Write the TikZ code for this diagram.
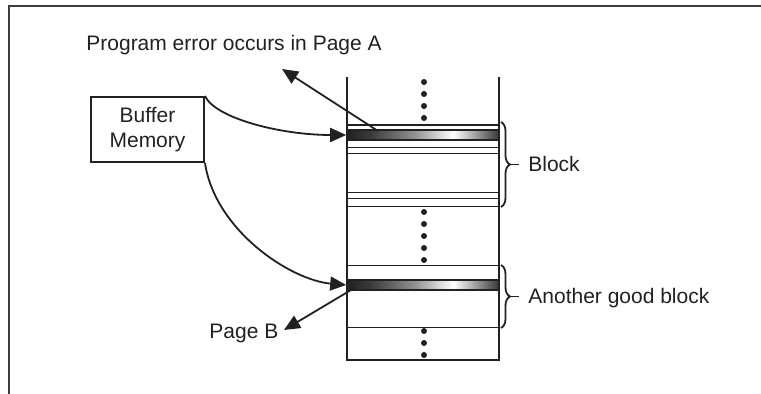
\documentclass[tikz,border=0pt]{standalone}
\usepackage{fontspec}
\setmainfont{Liberation Sans}
\usetikzlibrary{arrows.meta, decorations.pathreplacing}
\definecolor{inkgray}{RGB}{34,32,33}
\definecolor{framegray}{RGB}{60,60,60}
\pgfdeclarehorizontalshading{barfade}{100bp}{color(0bp)=(inkgray); color(25bp)=(inkgray); color(33bp)=(inkgray!88); color(47bp)=(inkgray!50); color(60bp)=(white); color(75bp)=(inkgray!90); color(100bp)=(inkgray!90)}

\begin{document}
\begin{tikzpicture}[
  x=0.5pt, y=-0.5pt,
  font=\fontsize{10.5}{12.5}\selectfont,
  wall/.style={draw=inkgray, line width=1.2pt},
  rowline/.style={draw=inkgray, line width=0.9pt},
  bar/.style={draw=inkgray, line width=0.8pt, shading=barfade,
              minimum width=76pt, minimum height=5pt, inner sep=0pt},
  membox/.style={draw=inkgray, line width=1pt, text=inkgray,
                 minimum width=56.5pt, minimum height=32.5pt,
                 align=center, inner sep=0pt},
  lbl/.style={text=inkgray, inner sep=0pt},
  dotmark/.style={fill=inkgray},
  arr/.style={-{Triangle[length=8pt, width=7pt]}, line width=0.9pt, draw=inkgray},
  brc/.style={decorate, decoration={brace, amplitude=4.5pt},
              line width=0.9pt, draw=inkgray}
]
  \useasboundingbox (0,0) rectangle (761,394);
  % frame
  \draw[framegray, line width=0.8pt] (9,394) -- (9,6) -- (761,6);

  % memory column
  \draw[wall] (347,77) -- (347,360) -- (499,360) -- (499,77);
  \foreach \y in {125,147.5,153.5,192.5,198.5,206.5,265.5,327.5}
    \draw[rowline] (347,\y) -- (499,\y);
  \foreach \y in {82,94,106,118,212,224,236,248,260,331,343,355}
    \fill[dotmark] (424,\y) circle (1.5pt);

  \node[bar] (barA) at (423,135) {};
  \node[bar] (barB) at (423,285) {};

  % labels
  \node[lbl, anchor=base west] (pgA)  at (86,51)   {Program error occurs in Page A};
  \node[membox]                (buf)  at (147.5,129.5) {Buffer\\Memory};
  \node[lbl, anchor=base west] (pgB)  at (209,339) {Page B};
  \node[lbl, anchor=base west] (blk)  at (528,172) {Block};
  \node[lbl, anchor=base west] (good) at (528,304) {Another good block};

  \coordinate (errA) at (378,131);
  \coordinate (tipA) at (282,69);
  \coordinate (errB) at (356,287);
  \coordinate (tipB) at (284,330);

  % arrows
  \draw[arr] (buf.north east) .. controls (215,118) and (280,135) .. (barA.west);
  \draw[arr] (buf.south east) .. controls (215,230) and (290,280) .. (barB.west);
  \draw[arr] (errA) -- (tipA);
  \draw[arr] (errB) -- (tipB);

  % braces
  \draw[brc] (501,122) -- (501,207);
  \draw[brc] (501,265) -- (501,328);
  \draw[inkgray, line width=0.9pt] (510,164.5) -- (519,164.5);
  \draw[inkgray, line width=0.9pt] (510,296.5) -- (519,296.5);
\end{tikzpicture}
\end{document}
